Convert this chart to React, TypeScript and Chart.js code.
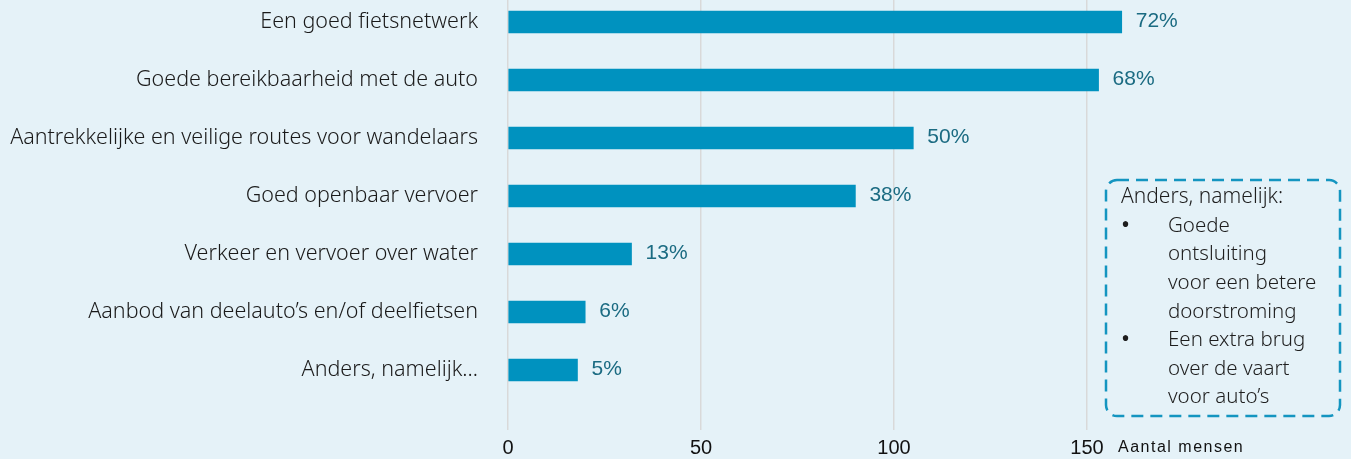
import React, { useEffect, useRef } from "react";
import { Chart, registerables } from "chart.js";

Chart.register(...registerables);

const categories = [
  "Een goed fietsnetwerk",
  "Goede bereikbaarheid met de auto",
  "Aantrekkelijke en veilige routes voor wandelaars",
  "Goed openbaar vervoer",
  "Verkeer en vervoer over water",
  "Aanbod van deelauto’s en/of deelfietsen",
  "Anders, namelijk…",
];
const counts = [159, 153, 105, 90, 32, 20, 18];
const percentLabels = ["72%", "68%", "50%", "38%", "13%", "6%", "5%"];
const xTicks = [0, 50, 100, 150];
const xMax = 200;
const axisTitle = "Aantal mensen";
const noteTitle = "Anders, namelijk:";
const noteBullets = [
  ["Goede", "ontsluiting", "voor een betere", "doorstroming"],
  ["Een extra brug", "over de vaart", "voor auto’s"],
];

const BG = "#e5f2f8";
const BAR = "#0092bf";
const W = 1351;
const H = 466;
const OFFSET_TOP = -7;
const LABEL_FONT = '"Noto Sans", "Open Sans", sans-serif';

export default function App() {
  const ref = useRef<HTMLCanvasElement | null>(null);

  useEffect(() => {
    if (!ref.current) return;
    const overlay = {
      id: "overlay",
      afterDatasetsDraw(chart: any) {
        const ctx = chart.ctx;
        const meta = chart.getDatasetMeta(0);
        ctx.save();
        ctx.font = '21px "Liberation Sans", Arial, sans-serif';
        ctx.fillStyle = "#1b6b82";
        ctx.textAlign = "left";
        ctx.textBaseline = "middle";
        meta.data.forEach((bar: any, i: number) => {
          ctx.fillText(percentLabels[i], bar.x + 14, bar.y - 1);
        });
        ctx.restore();
      },
      afterDraw(chart: any) {
        const ctx = chart.ctx;
        const xs = chart.scales.x;
        ctx.save();
        // axis title
        ctx.font = '16px "Liberation Sans", Arial, sans-serif';
        (ctx as any).letterSpacing = "1.5px";
        ctx.fillStyle = "#111";
        ctx.textAlign = "left";
        ctx.textBaseline = "middle";
        ctx.fillText(axisTitle, xs.getPixelForValue(150) + 31, 455);
        (ctx as any).letterSpacing = "0px";
        // note box
        const bx = 1106, by = 187, bw = 234, bh = 236;
        ctx.beginPath();
        ctx.setLineDash([12, 7]);
        ctx.lineWidth = 2.5;
        ctx.strokeStyle = "#1495c0";
        (ctx as any).roundRect(bx, by, bw, bh, 11);
        ctx.stroke();
        ctx.setLineDash([]);
        ctx.font = "300 21px " + LABEL_FONT;
        ctx.fillStyle = "#1e1e1e";
        ctx.textBaseline = "middle";
        ctx.fillText(noteTitle, 1121, 204);
        let y = 233;
        noteBullets.forEach((lines) => {
          ctx.font = "24px " + LABEL_FONT;
          ctx.fillText("•", 1121, y);
          ctx.font = "300 20.5px " + LABEL_FONT;
          lines.forEach((ln) => {
            ctx.fillText(ln, 1168, y);
            y += 28.6;
          });
        });
        ctx.restore();
      },
    };

    const chart = new Chart(ref.current, {
      type: "bar",
      data: {
        labels: categories,
        datasets: [
          {
            data: counts,
            backgroundColor: BAR,
            barThickness: 22,
          },
        ],
      },
      options: {
        indexAxis: "y",
        responsive: false,
        animation: false,
        layout: { autoPadding: false, padding: { left: 0, right: 71, top: 0, bottom: 0 } },
        plugins: {
          legend: { display: false },
          tooltip: { enabled: false },
        },
        scales: {
          x: {
            min: 0,
            max: xMax,
            afterBuildTicks: (scale: any) => {
              scale.ticks = xTicks.map((v) => ({ value: v }));
            },
            afterFit: (scale: any) => {
              scale.height = 60;
            },
            grid: {
              color: "#d9d9d9",
              lineWidth: 1.5,
              tickLength: 31,
              tickColor: "#d9d9d9",
            },
            border: { display: false },
            ticks: {
              padding: 6,
              color: "#111",
              font: { family: '"Liberation Sans", Arial, sans-serif', size: 20 },
            },
          },
          y: {
            afterFit: (scale: any) => {
              scale.width = 508;
              scale.paddingTop = 0;
              scale.paddingBottom = 0;
            },
            grid: { display: false },
            border: { display: false },
            ticks: {
              padding: 22,
              color: "#1a1a1a",
              font: { family: LABEL_FONT, size: 21.5, weight: "300" },
            },
          },
        },
      },
      plugins: [overlay],
    });
    return () => chart.destroy();
  }, []);

  return (
    <div style={{ position: "fixed", left: 0, top: 0, width: "100vw", height: "100vh", background: BG, overflow: "hidden" }}>
      <canvas
        ref={ref}
        width={W}
        height={H}
        style={{ position: "absolute", left: 0, top: OFFSET_TOP, width: W, height: H }}
      />
    </div>
  );
}
